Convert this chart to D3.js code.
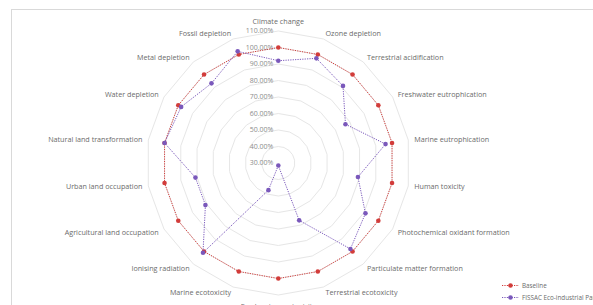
<!DOCTYPE html>
<html lang="en">
<head>
<meta charset="UTF-8">
<title>Radar chart</title>
<script src="https://cdn.jsdelivr.net/npm/d3@7"></script>
<style>
    body { margin: 0; background: #fff; font-family: "Open Sans", "Liberation Sans", sans-serif; }
    svg { display: block; }
</style>
</head>
<body>
<div id="chart"></div>
<script>
var categories = ["Climate change", "Ozone depletion", "Terrestrial acidification", "Freshwater eutrophication",
    "Marine eutrophication", "Human toxicity", "Photochemical oxidant formation", "Particulate matter formation",
    "Terrestrial ecotoxicity", "Freshwater ecotoxicity", "Marine ecotoxicity", "Ionising radiation",
    "Agricultural land occupation", "Urban land occupation", "Natural land transformation", "Water depletion",
    "Metal depletion", "Fossil depletion"];
var baseline = [100, 100, 100, 100, 100, 100, 100, 100, 100, 100, 100, 100, 100, 100, 100, 100, 100, 100];
var fissac = [92, 97.5, 91, 77, 96, 79, 91, 98, 67, 31.5, 47.5, 101, 81, 81, 100, 98, 93, 102];
var ticks = [30, 40, 50, 60, 70, 80, 90, 100, 110];
var seriesNames = ["Baseline", "FISSAC Eco-industrial Park"];
var seriesColors = ["#d23c3a", "#7a58bb"];

var width = 593, height = 305;
var cx = 278.3, cy = 163;

var svg = d3.select("#chart").append("svg")
    .attr("width", width)
    .attr("height", height);

// chart border (top and left visible)
svg.append("rect")
    .attr("x", 11.5).attr("y", 9.5)
    .attr("width", 640).attr("height", 340)
    .attr("fill", "none")
    .attr("stroke", "#d9d9d9");

var r = d3.scaleLinear().domain([30, 110]).range([0, 132]);
var angle = d3.scaleLinear().domain([0, categories.length]).range([0, 2 * Math.PI]);

function pt(i, v) {
    var a = angle(i);
    var rr = r(v);
    return [cx + rr * Math.sin(a), cy - rr * Math.cos(a)];
}

var g = svg.append("g");

// grid polygons
ticks.forEach(function(t) {
    if (t === 30) return;
    var pts = categories.map(function(c, i) { return pt(i, t); });
    g.append("path")
        .attr("d", d3.line().curve(d3.curveLinearClosed)(pts))
        .attr("fill", "none")
        .attr("stroke", "#e6e6e6")
        .attr("stroke-width", 1);
});

// tick labels
g.selectAll(".tick")
    .data(ticks)
    .enter()
    .append("text")
    .attr("x", cx - 5)
    .attr("y", function(d) { return cy - r(d); })
    .attr("dy", "0.35em")
    .attr("text-anchor", "end")
    .attr("font-size", "7px")
    .attr("fill", "#8c8c8c")
    .text(function(d) { return d.toFixed(2) + "%"; });

// category labels
var labelR = 138;
g.selectAll(".cat")
    .data(categories)
    .enter()
    .append("text")
    .attr("x", function(d, i) { return cx + labelR * Math.sin(angle(i)); })
    .attr("y", function(d, i) {
        var y = cy - labelR * Math.cos(angle(i));
        if (i === 0) return y - 4;
        if (i === 9) return y + 5;
        return y;
    })
    .attr("dy", "0.35em")
    .attr("text-anchor", function(d, i) {
        if (i === 0 || i === 9) return "middle";
        return i < 9 ? "start" : "end";
    })
    .attr("font-size", "7.2px")
    .attr("fill", "#6b6b6b")
    .text(function(d) { return d; });

// series
var allSeries = [baseline, fissac];
allSeries.forEach(function(vals, s) {
    var pts = vals.map(function(v, i) { return pt(i, v); });
    g.append("path")
        .attr("d", d3.line().curve(d3.curveLinearClosed)(pts))
        .attr("fill", "none")
        .attr("stroke", seriesColors[s])
        .attr("stroke-width", 1)
        .attr("stroke-dasharray", "1.2,1.2");
    g.selectAll(".m" + s)
        .data(pts)
        .enter()
        .append("circle")
        .attr("cx", function(d) { return d[0]; })
        .attr("cy", function(d) { return d[1]; })
        .attr("r", 2.3)
        .attr("fill", seriesColors[s]);
});

// legend
var legend = svg.append("g");
seriesNames.forEach(function(name, s) {
    var y = 285.5 + s * 12;
    legend.append("line")
        .attr("x1", 502).attr("x2", 519)
        .attr("y1", y).attr("y2", y)
        .attr("stroke", seriesColors[s])
        .attr("stroke-width", 1)
        .attr("stroke-dasharray", "1.2,1.2");
    legend.append("circle")
        .attr("cx", 510.5).attr("cy", y)
        .attr("r", 2.3)
        .attr("fill", seriesColors[s]);
    legend.append("text")
        .attr("x", 522).attr("y", y)
        .attr("dy", "0.35em")
        .attr("font-size", "6.3px")
        .attr("fill", "#6b6b6b")
        .text(name);
});
</script>
</body>
</html>
